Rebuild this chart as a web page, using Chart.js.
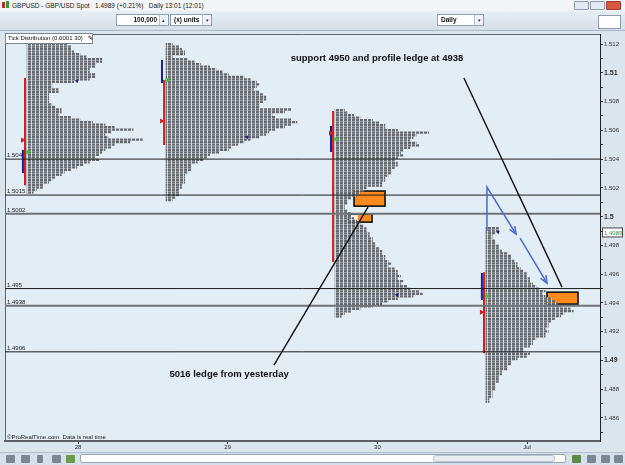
<!DOCTYPE html>
<html>
<head>
<meta charset="utf-8">
<script src="https://cdn.jsdelivr.net/npm/chart.js"></script>
<style>
body { margin: 0; width: 625px; height: 465px; overflow: hidden; font-family: "Liberation Sans", Arial, sans-serif; background: #d9e3ec; }
#wrap { position: relative; width: 625px; height: 465px; }
canvas { position: absolute; left: 0; top: 0; }
.abs { position: absolute; box-sizing: border-box; }
.title { left: 0; top: 0; width: 625px; height: 11px; background: #f3f5f8; font-size: 6.5px; line-height: 11px; color: #222; padding-left: 12px; white-space: pre; }
.ico { left: 2px; top: 2px; width: 3px; height: 6px; background: #c0302a; }
.ico2 { left: 6px; top: 1px; width: 3px; height: 7px; background: #3a9a3a; }
.wb { top: 1px; width: 15px; height: 9px; border: 1px solid #8c9bab; background: #e4eaf1; border-radius: 1px; }
.toolbar { left: 0; top: 11px; width: 625px; height: 20px; background: linear-gradient(#e7eef5, #d5dfe9); border-bottom: 1px solid #a9b8c6; }
.inp { top: 14px; height: 12px; background: #fff; border: 1px solid #8aa0b6; font-size: 6.5px; font-weight: bold; line-height: 10px; color: #111; padding: 0 3px; white-space: pre; }
.arr { top: 15px; width: 9px; height: 10px; border-left: 1px solid #b4c2cf; background: #eef2f6; font-size: 5px; line-height: 10px; text-align: center; color: #333; }
.tick { left: 5px; top: 33px; width: 88px; height: 11px; background: #fff; border: 1px solid #7d8791; font-size: 6px; line-height: 9px; padding-left: 2px; color: #111; white-space: pre; }
.bottom { left: 0; top: 452px; width: 625px; height: 13px; background: #d6e0ea; border-top: 1px solid #b2c0cd; }
.bi { top: 455px; width: 9px; height: 8px; background: #7b8793; border-radius: 1px; }
.scroll { left: 80px; top: 454px; width: 486px; height: 9px; background: #fff; border: 1px solid #95a7b8; border-radius: 2px; }
.thumb { left: 433px; top: 455px; width: 122px; height: 7px; background: #e8edf2; border: 1px solid #b9c6d2; border-radius: 3px; }
</style>
</head>
<body>
<div id="wrap">
<canvas id="chart" width="625" height="465"></canvas>
<div class="abs title">GBPUSD - GBP/USD Spot   1.4989 (+0.21%)   Daily 13:01 (12:01)</div>
<div class="abs ico"></div><div class="abs ico2"></div>
<div class="abs wb" style="left:574px"></div>
<div class="abs wb" style="left:590px"></div>
<div class="abs wb" style="left:606px;background:#d8573f;border-color:#a33"></div>
<div class="abs toolbar"></div>
<div class="abs inp" style="left:116px;width:53px;text-align:right;padding-right:11px">100,000</div>
<div class="abs arr" style="left:159px;width:8px">&#x25B4;</div>
<div class="abs inp" style="left:170px;width:42px;font-weight:bold">(x) units</div>
<div class="abs arr" style="left:202px">&#x25BE;</div>
<div class="abs inp" style="left:437px;width:47px">Daily</div>
<div class="abs arr" style="left:474px">&#x25BE;</div>
<div class="abs inp" style="left:598px;top:15px;width:23px;height:14px;border-color:#8c9bab"></div>
<div class="abs tick">Tick Distribution (0.0001 30)   &#x270E;</div>
<div class="abs bottom"></div>
<div class="abs bi" style="left:6px"></div>
<div class="abs bi" style="left:21px"></div>
<div class="abs bi" style="left:37px;width:6px"></div>
<div class="abs bi" style="left:52px"></div>
<div class="abs bi" style="left:66px;background:#6a9a4a"></div>
<div class="abs scroll"></div>
<div class="abs thumb"></div>
<div class="abs bi" style="left:572px;background:#5a8a4a"></div>
<div class="abs bi" style="left:587px"></div>
<div class="abs bi" style="left:601px"></div>
<div class="abs bi" style="left:614px"></div>
</div>
<script>
// axis ranges (days on x, price on y)
const xMin = 27.5123, xMax = 31.487;
const yMin = 1.4844, yMax = 1.5127;

const dayTicks = [28, 29, 30, 31];
const dayLabels = ['28', '29', '30', 'Jul'];
const priceTicks = [1.485, 1.486, 1.487, 1.488, 1.489, 1.49, 1.491, 1.492, 1.493, 1.494,
    1.495, 1.496, 1.497, 1.498, 1.499, 1.5, 1.501, 1.502, 1.503, 1.504,
    1.505, 1.506, 1.507, 1.508, 1.509, 1.51, 1.511, 1.512];

// market profile rows: width in 30-minute periods, one row per price step
const tpoStep = 0.000175;
const profileStart = [27.659, 28.588, 29.717, 30.725];
const profileTop = [1.5120, 1.5120, 1.50741, 1.49920];
const profile1 = [13, 14, 14, 15, 17, 19, 24, 24, 22, 22, 20, 20, 22, 22, 20, 15, 8, 8, 10, 10,
    7, 7, 7, 7, 8, 9, 11, 11, 10, 14, 17, 21, 25, 28, 34, 27, 25, 26, 37, 33,
    28, 27, 25, 24, 23, 22, 23, 20, 18, 16, 14, 12, 11, 9, 8, 7, 5, 5, 3, 2];
const profile2 = [2, 4, 5, 6, 6, 2, 7, 9, 11, 14, 16, 18, 20, 25, 27, 29, 30, 29, 28, 30,
    31, 32, 32, 31, 30, 30, 40, 38, 34, 35, 40, 42, 40, 38, 35, 33, 32, 30, 27, 25,
    23, 21, 20, 17, 14, 13, 12, 10, 8, 8, 8, 7, 6, 6, 6, 6, 5, 5, 4, 4, 4, 3, 2];
const profile3 = [3, 4, 6, 8, 12, 14, 16, 16, 20, 30, 26, 25, 24, 26, 27, 24, 22, 21, 22, 20,
    19, 20, 20, 19, 18, 18, 17, 16, 16, 15, 15, 10, 9, 8, 7, 5, 4, 4, 3, 3,
    4, 5, 5, 6, 7, 8, 9, 10, 10, 11, 11, 12, 12, 13, 13, 14, 15, 15, 16, 16,
    17, 18, 17, 19, 20, 20, 21, 20, 22, 21, 23, 24, 27, 28, 25, 20, 17, 15, 12, 8, 5, 3, 2];
const profile4 = [4, 4, 3, 2, 2, 3, 3, 4, 4, 5, 7, 8, 8, 9, 10, 10, 11, 12, 13, 13,
    14, 14, 15, 16, 17, 19, 18, 19, 21, 22, 23, 24, 27, 28, 25, 24, 22, 21, 20, 20,
    19, 20, 19, 19, 16, 15, 15, 14, 12, 12, 14, 13, 10, 8, 8, 7, 7, 5, 5, 4, 4, 4, 3, 3, 3, 2, 2, 2, 1, 1];

// value area (red), initial balance (blue), open (green), poc (red flag), close (blue)
const vaHigh = [1.50964, 1.50950, 1.50734, 1.49614];
const vaLow = [1.50219, 1.50498, 1.49684, 1.49051];
const ibHigh = [1.50463, 1.51089, 1.50630, 1.49608];
const ibLow = [1.50303, 1.50929, 1.50449, 1.49420];
const openPrice = [1.50449, 1.50950, 1.50539, 1.49448];
const pocPrice = [1.50532, 1.50665, 1.50581, 1.49336];
const closeAt = [27.993, 29.129, 30.131, 30.806];
const closePrice = [1.50943, 1.50553, 1.49455, 1.49893];

// horizontal levels
const levelPrices = [1.504, 1.5015, 1.5002, 1.495, 1.4938, 1.4906];
const levelLabels = ['1.504', '1.5015', '1.5002', '1.495', '1.4938', '1.4906'];
const lastPrice = 1.4989;

// drawn annotations
const boxFrom = [29.844, 29.804, 31.133];
const boxTo = [30.051, 29.964, 31.340];
const boxHigh = [1.50178, 1.50018, 1.49475];
const boxLow = [1.50073, 1.49962, 1.49392];
const blankTo = [null, 29.870, null];
const noteLines = [
    [[29.309, 1.48968], [29.937, 1.50066]],
    [[30.578, 1.50964], [31.233, 1.49510]]
];
const arrowPaths = [
    [[30.732, 1.49900], [30.732, 1.50206], [30.926, 1.49879]],
    [[30.953, 1.49851], [31.133, 1.49538]]
];
const noteText = ['support 4950 and profile ledge at 4938', '5016 ledge from yesterday'];
const noteX = [29.997, 29.009];
const noteY = [1.51103, 1.48905];

// dashed fill to look like the letter blocks
const pc = document.createElement('canvas');
pc.width = 4; pc.height = 1;
const pg = pc.getContext('2d');
pg.fillStyle = '#d2d8de'; pg.fillRect(0, 0, 4, 1);
pg.fillStyle = '#666a6e'; pg.fillRect(0, 0, 3, 1);
const tpoFill = pg.createPattern(pc, 'repeat');

function tpoRows(start, top, widths) {
    return widths.map((w, i) => ({ y: top - i * tpoStep, x: [start, start + w / 48] }));
}

const datasets = [];
[profile1, profile2, profile3, profile4].forEach((w, k) => {
    datasets.push({
        type: 'bar', indexAxis: 'y', grouped: false, barThickness: 1.6,
        backgroundColor: tpoFill, borderWidth: 0, order: 5,
        data: tpoRows(profileStart[k], profileTop[k], w)
    });
});
levelPrices.forEach(p => {
    const heavy = p === 1.5002 || p === 1.4938;
    datasets.push({
        type: 'line', data: [{ x: xMin, y: p }, { x: xMax, y: p }],
        borderColor: heavy ? '#6f747a' : '#1e1e1e', borderWidth: heavy ? 2 : 1,
        pointRadius: 0, order: 1
    });
});
profileStart.forEach((s, k) => {
    datasets.push({
        type: 'line', data: [{ x: s - 0.027, y: ibHigh[k] }, { x: s - 0.027, y: ibLow[k] }],
        borderColor: '#1b1f9e', borderWidth: 2, pointRadius: 0, order: 1
    });
    datasets.push({
        type: 'line', data: [{ x: s - 0.013, y: vaHigh[k] }, { x: s - 0.013, y: vaLow[k] }],
        borderColor: '#d21f1f', borderWidth: 2, pointRadius: 0, order: 1
    });
});
datasets.push({
    type: 'scatter', order: 0,
    data: openPrice.map((p, k) => ({ x: profileStart[k] + 0.006, y: p })),
    pointStyle: 'rect', pointRadius: 2.4, backgroundColor: '#33cc33', borderWidth: 0
});
datasets.push({
    type: 'scatter', order: 0,
    data: pocPrice.map((p, k) => ({ x: profileStart[k] - 0.03, y: p })),
    pointStyle: 'triangle', rotation: 90, pointRadius: 3, backgroundColor: '#d21f1f', borderWidth: 0
});
datasets.push({
    type: 'scatter', order: 0,
    data: closePrice.map((p, k) => ({ x: closeAt[k], y: p })),
    pointStyle: 'triangle', rotation: 45, pointRadius: 2.3, backgroundColor: '#1a1a9a', borderWidth: 0
});

function arrowHead(ctx, x0, y0, x1, y1) {
    const a = Math.atan2(y1 - y0, x1 - x0);
    ctx.beginPath();
    ctx.moveTo(x1 - 8 * Math.cos(a - 0.4), y1 - 8 * Math.sin(a - 0.4));
    ctx.lineTo(x1, y1);
    ctx.lineTo(x1 - 8 * Math.cos(a + 0.4), y1 - 8 * Math.sin(a + 0.4));
    ctx.stroke();
}

const decor = {
    id: 'decor',
    beforeDraw(chart) {
        const { ctx, chartArea: a } = chart;
        ctx.save();
        ctx.fillStyle = '#dbe5ee';
        ctx.fillRect(0, 0, chart.width, chart.height);
        ctx.fillStyle = '#e2edf5';
        ctx.fillRect(a.left, a.top, a.right - a.left, a.bottom - a.top);
        ctx.strokeStyle = '#5c6670';
        ctx.lineWidth = 1;
        ctx.beginPath();
        ctx.moveTo(a.left + 0.5, a.bottom);
        ctx.lineTo(a.left + 0.5, a.top + 0.5);
        ctx.lineTo(a.right, a.top + 0.5);
        ctx.stroke();
        ctx.restore();
    },
    beforeDatasetsDraw(chart) {
        const { ctx } = chart;
        const x = chart.scales.x, y = chart.scales.y;
        ctx.save();
        boxFrom.forEach((f, k) => {
            const l = x.getPixelForValue(f), r = x.getPixelForValue(boxTo[k]);
            const t = y.getPixelForValue(boxHigh[k]), b = y.getPixelForValue(boxLow[k]);
            ctx.fillStyle = '#ff8a1c';
            ctx.fillRect(l, t, r - l, b - t);
            if (blankTo[k]) {
                ctx.fillStyle = '#f4f1ea';
                ctx.fillRect(l, t, x.getPixelForValue(blankTo[k]) - l, b - t);
            }
            ctx.strokeStyle = '#111';
            ctx.lineWidth = 1.6;
            ctx.strokeRect(l, t, r - l, b - t);
        });
        ctx.restore();
    },
    afterDatasetsDraw(chart) {
        const { ctx, chartArea: a } = chart;
        const x = chart.scales.x, y = chart.scales.y;
        ctx.save();
        // level labels
        ctx.fillStyle = '#222';
        ctx.font = '6px "Liberation Sans", Arial';
        ctx.textBaseline = 'alphabetic';
        levelPrices.forEach((p, k) => ctx.fillText(levelLabels[k], a.left + 2, y.getPixelForValue(p) - 2));
        // black pointer lines
        ctx.strokeStyle = '#111';
        ctx.lineWidth = 1.4;
        noteLines.forEach(seg => {
            ctx.beginPath();
            ctx.moveTo(x.getPixelForValue(seg[0][0]), y.getPixelForValue(seg[0][1]));
            ctx.lineTo(x.getPixelForValue(seg[1][0]), y.getPixelForValue(seg[1][1]));
            ctx.stroke();
        });
        // blue arrows
        ctx.strokeStyle = '#4a6ad2';
        ctx.lineWidth = 1.5;
        arrowPaths.forEach(path => {
            const pts = path.map(p => [x.getPixelForValue(p[0]), y.getPixelForValue(p[1])]);
            ctx.beginPath();
            pts.forEach((p, i) => i ? ctx.lineTo(p[0], p[1]) : ctx.moveTo(p[0], p[1]));
            ctx.stroke();
            const n = pts.length;
            arrowHead(ctx, pts[n - 2][0], pts[n - 2][1], pts[n - 1][0], pts[n - 1][1]);
        });
        // notes
        ctx.fillStyle = '#111';
        ctx.font = 'bold 9.5px "Liberation Sans", Arial';
        ctx.textAlign = 'center';
        ctx.textBaseline = 'middle';
        noteText.forEach((t, k) => ctx.fillText(t, x.getPixelForValue(noteX[k]), y.getPixelForValue(noteY[k])));
        // footer
        ctx.textAlign = 'left';
        ctx.textBaseline = 'alphabetic';
        ctx.font = '6px "Liberation Sans", Arial';
        ctx.fillStyle = '#222';
        ctx.fillText('\u00A9ProRealTime.com  Data is real time', a.left + 2, a.bottom - 2);
        // last price tag
        const py = y.getPixelForValue(lastPrice);
        ctx.fillStyle = '#fff';
        ctx.fillRect(a.right + 2, py - 4.5, 20, 9);
        ctx.strokeStyle = '#444';
        ctx.lineWidth = 1;
        ctx.strokeRect(a.right + 2.5, py - 4.5, 20, 9);
        ctx.fillStyle = '#2f9a3f';
        ctx.textBaseline = 'middle';
        ctx.fillText(lastPrice.toFixed(4), a.right + 4, py + 0.5);
        ctx.restore();
    }
};

const isMajor = v => Math.round(v * 1000) % 10 === 0;
const isLabelled = v => Math.round(v * 1000) % 2 === 0;

new Chart(document.getElementById('chart'), {
    type: 'bar',
    data: { datasets: datasets },
    options: {
        responsive: false,
        animation: false,
        devicePixelRatio: 1,
        events: [],
        layout: { padding: { left: 5, top: 34, right: 0, bottom: 13 } },
        plugins: { legend: { display: false }, tooltip: { enabled: false } },
        scales: {
            x: {
                type: 'linear', min: xMin, max: xMax, offset: false,
                afterBuildTicks: s => { s.ticks = dayTicks.map(v => ({ value: v })); },
                afterFit: s => { s.height = 11; },
                grid: { drawOnChartArea: false, offset: false, tickLength: 3, color: '#333' },
                border: { display: true, color: '#5a5f65', width: 2 },
                ticks: {
                    padding: 0, color: '#222', autoSkip: false, maxRotation: 0,
                    font: { family: 'Liberation Sans', size: 6 },
                    callback: (v, i) => dayLabels[i]
                }
            },
            y: {
                type: 'linear', position: 'right', min: yMin, max: yMax, offset: false,
                afterBuildTicks: s => { s.ticks = priceTicks.map(v => ({ value: v })); },
                afterFit: s => { s.width = 25; },
                grid: { drawOnChartArea: false, offset: false, tickLength: 3, color: '#333' },
                border: { display: true, color: '#222', width: 1 },
                ticks: {
                    padding: 1, color: '#333', autoSkip: false,
                    font: c => (c.tick && isMajor(c.tick.value))
                        ? { family: 'Liberation Sans', size: 7, weight: 'bold' }
                        : { family: 'Liberation Sans', size: 6 },
                    callback: v => isLabelled(v) ? String(parseFloat(v.toFixed(3))) : ''
                }
            }
        }
    },
    plugins: [decor]
});
</script>
</body>
</html>
